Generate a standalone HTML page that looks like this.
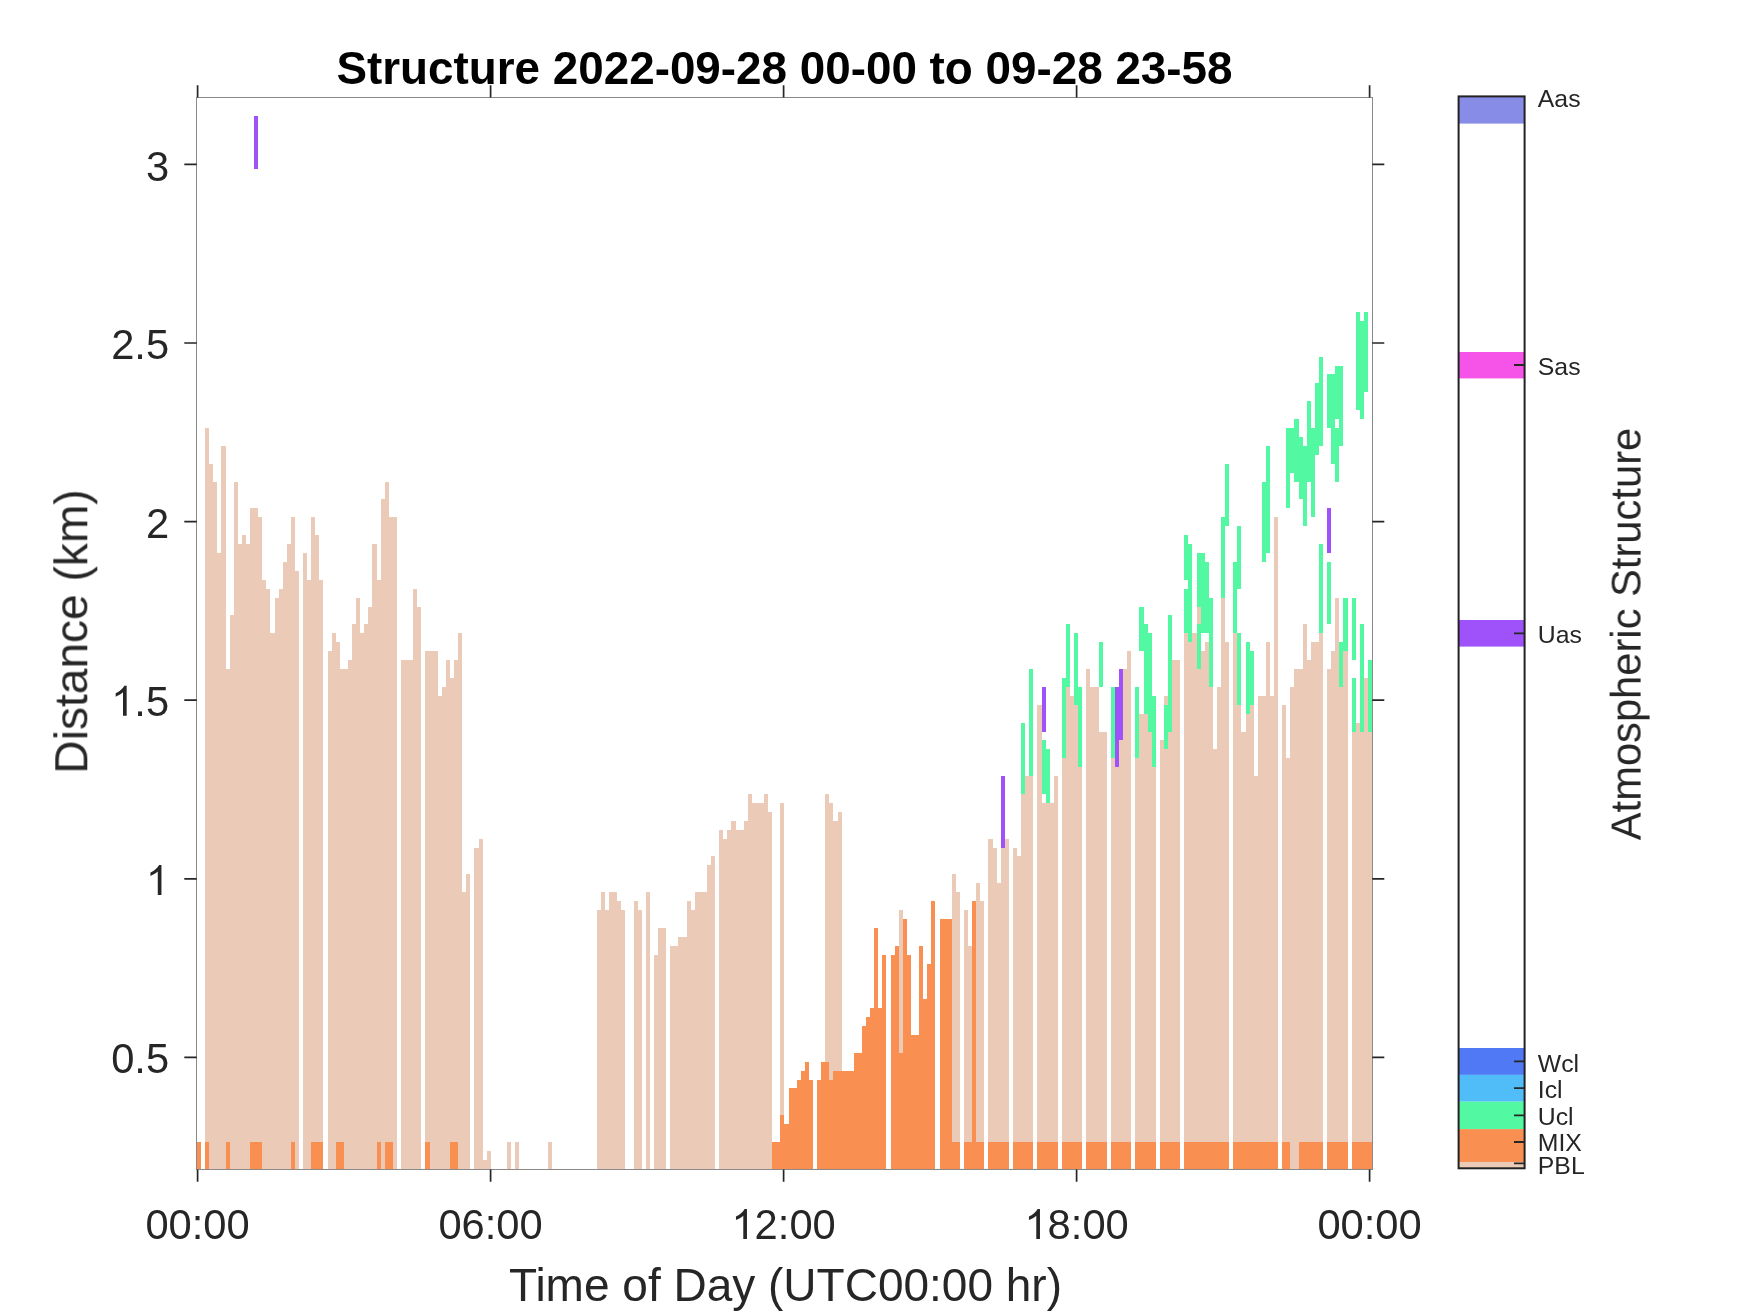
<!DOCTYPE html>
<html><head><meta charset="utf-8"><title>Structure</title>
<style>
html,body{margin:0;padding:0;background:#fff;}
body{width:1750px;height:1313px;overflow:hidden;font-family:"Liberation Sans",sans-serif;}
svg{display:block;position:absolute;left:0;top:0;}
text{font-family:"Liberation Sans",sans-serif;}
</style></head><body>
<svg width="1750" height="1313" viewBox="0 0 1750 1313">
<rect width="1750" height="1313" fill="#fff"/>
<g shape-rendering="crispEdges">
<path fill="#ebcbb7" d="M205 428h4v741h-4zM209 464h4v705h-4zM213 482h4v687h-4zM217 553h4v616h-4zM221 446h5v723h-5zM226 669h4v500h-4zM230 615h4v554h-4zM234 482h4v687h-4zM238 544h4v625h-4zM242 535h4v634h-4zM246 544h4v625h-4zM250 508h8v661h-8zM258 517h4v652h-4zM262 580h4v589h-4zM266 589h4v580h-4zM270 633h5v536h-5zM275 598h4v571h-4zM279 589h4v580h-4zM283 562h4v607h-4zM287 544h4v625h-4zM291 517h4v652h-4zM295 571h4v598h-4zM303 553h4v616h-4zM307 580h4v589h-4zM311 517h4v652h-4zM315 535h4v634h-4zM319 580h4v589h-4zM328 651h4v518h-4zM332 633h4v536h-4zM336 642h4v527h-4zM340 669h8v500h-8zM348 660h4v509h-4zM352 624h4v545h-4zM356 598h4v571h-4zM360 633h4v536h-4zM364 624h4v545h-4zM368 607h4v562h-4zM372 544h5v625h-5zM377 580h4v589h-4zM381 499h4v670h-4zM385 482h4v687h-4zM389 517h8v652h-8zM401 660h12v509h-12zM413 589h4v580h-4zM417 607h4v562h-4zM425 651h13v518h-13zM438 696h4v473h-4zM442 687h4v482h-4zM446 660h4v509h-4zM450 678h4v491h-4zM454 660h4v509h-4zM458 633h4v536h-4zM462 892h4v277h-4zM466 874h4v295h-4zM474 848h5v321h-5zM479 839h4v330h-4zM483 1160h4v9h-4zM487 1151h4v18h-4zM507 1142h4v27h-4zM515 1142h4v27h-4zM548 1142h4v27h-4zM597 910h4v259h-4zM601 892h4v277h-4zM605 910h4v259h-4zM609 892h8v277h-8zM617 901h4v268h-4zM621 910h4v259h-4zM634 901h4v268h-4zM638 910h4v259h-4zM646 892h4v277h-4zM654 955h4v214h-4zM658 928h8v241h-8zM670 946h8v223h-8zM678 937h9v232h-9zM687 901h4v268h-4zM691 910h4v259h-4zM695 892h12v277h-12zM707 865h4v304h-4zM711 856h4v313h-4zM719 830h4v339h-4zM723 839h4v330h-4zM727 830h4v339h-4zM731 821h5v348h-5zM736 830h8v339h-8zM744 821h4v348h-4zM748 794h4v375h-4zM752 803h12v366h-12zM764 794h4v375h-4zM768 812h4v357h-4zM780 803h4v366h-4zM825 794h4v375h-4zM829 803h4v366h-4zM833 821h5v348h-5zM838 812h4v357h-4zM899 910h4v259h-4zM952 874h4v295h-4zM956 892h4v277h-4zM964 910h4v259h-4zM968 946h4v223h-4zM976 883h4v286h-4zM980 901h4v268h-4zM988 839h5v330h-5zM993 848h4v321h-4zM997 883h4v286h-4zM1001 848h4v321h-4zM1005 839h4v330h-4zM1013 848h4v321h-4zM1017 856h4v313h-4zM1021 794h4v375h-4zM1025 776h8v393h-8zM1037 705h5v464h-5zM1042 803h12v366h-12zM1054 776h4v393h-4zM1062 758h4v411h-4zM1066 687h4v482h-4zM1070 696h4v473h-4zM1074 705h4v464h-4zM1078 767h4v402h-4zM1086 669h4v500h-4zM1090 687h9v482h-9zM1099 732h8v437h-8zM1111 758h4v411h-4zM1115 767h4v402h-4zM1119 740h4v429h-4zM1123 669h4v500h-4zM1127 651h4v518h-4zM1135 758h4v411h-4zM1139 714h9v455h-9zM1148 732h4v437h-4zM1152 767h4v402h-4zM1160 740h4v429h-4zM1164 696h4v473h-4zM1168 732h4v437h-4zM1172 660h8v509h-8zM1184 633h4v536h-4zM1188 642h4v527h-4zM1192 633h5v536h-5zM1197 607h4v562h-4zM1201 651h4v518h-4zM1205 642h4v527h-4zM1209 687h4v482h-4zM1213 749h4v420h-4zM1217 687h4v482h-4zM1221 598h4v571h-4zM1225 642h4v527h-4zM1233 633h4v536h-4zM1237 705h4v464h-4zM1241 732h5v437h-5zM1246 714h4v455h-4zM1250 705h4v464h-4zM1254 776h4v393h-4zM1258 696h8v473h-8zM1266 642h4v527h-4zM1270 696h4v473h-4zM1274 517h4v652h-4zM1282 705h4v464h-4zM1286 758h4v411h-4zM1290 687h4v482h-4zM1294 669h9v500h-9zM1303 624h4v545h-4zM1307 660h4v509h-4zM1311 642h8v527h-8zM1319 633h4v536h-4zM1327 669h4v500h-4zM1331 651h4v518h-4zM1335 598h4v571h-4zM1339 687h4v482h-4zM1343 651h5v518h-5zM1352 732h4v437h-4zM1356 723h4v446h-4zM1360 732h4v437h-4zM1364 678h4v491h-4zM1368 732h4v437h-4z"/>
<path fill="#f99052" d="M197 1142h4v27h-4zM205 1142h4v27h-4zM226 1142h4v27h-4zM250 1142h12v27h-12zM291 1142h4v27h-4zM311 1142h12v27h-12zM336 1142h8v27h-8zM377 1142h4v27h-4zM385 1142h8v27h-8zM425 1142h5v27h-5zM450 1142h8v27h-8zM772 1142h8v27h-8zM780 1115h4v54h-4zM784 1124h5v45h-5zM789 1088h8v81h-8zM797 1080h4v89h-4zM801 1071h4v98h-4zM805 1062h4v107h-4zM809 1080h4v89h-4zM817 1080h4v89h-4zM821 1062h8v107h-8zM829 1080h4v89h-4zM833 1071h21v98h-21zM854 1053h8v116h-8zM862 1026h4v143h-4zM866 1017h4v152h-4zM870 1008h4v161h-4zM874 928h4v241h-4zM878 1008h4v161h-4zM882 955h4v214h-4zM891 955h4v214h-4zM895 946h4v223h-4zM899 1053h4v116h-4zM903 919h4v250h-4zM907 955h4v214h-4zM911 1035h8v134h-8zM919 946h4v223h-4zM923 999h4v170h-4zM927 964h4v205h-4zM931 901h4v268h-4zM940 919h12v250h-12zM952 1142h8v27h-8zM964 1142h8v27h-8zM972 901h4v268h-4zM976 1142h8v27h-8zM988 1142h21v27h-21zM1013 1142h20v27h-20zM1037 1142h21v27h-21zM1062 1142h20v27h-20zM1086 1142h21v27h-21zM1111 1142h20v27h-20zM1135 1142h21v27h-21zM1160 1142h20v27h-20zM1184 1142h45v27h-45zM1233 1142h45v27h-45zM1282 1142h8v27h-8zM1299 1142h24v27h-24zM1327 1142h21v27h-21zM1352 1142h20v27h-20z"/>
<path fill="#52f8a2" d="M1021 723h4v71h-4zM1029 669h4v107h-4zM1042 740h4v54h-4zM1046 749h4v54h-4zM1062 678h4v80h-4zM1066 624h4v63h-4zM1074 633h4v72h-4zM1078 687h4v80h-4zM1099 642h4v45h-4zM1111 687h4v71h-4zM1135 687h4v71h-4zM1139 607h5v44h-5zM1144 624h4v90h-4zM1148 633h4v99h-4zM1152 696h4v71h-4zM1164 705h4v44h-4zM1168 615h4v117h-4zM1184 535h4v45h-4zM1184 589h4v44h-4zM1188 544h4v98h-4zM1197 553h4v54h-4zM1197 624h4v45h-4zM1201 553h4v80h-4zM1205 562h4v71h-4zM1209 598h4v89h-4zM1221 517h4v81h-4zM1225 464h4v62h-4zM1233 562h4v71h-4zM1237 526h4v63h-4zM1237 633h4v72h-4zM1246 642h4v72h-4zM1250 651h4v54h-4zM1262 482h4v80h-4zM1266 446h4v107h-4zM1286 428h4v80h-4zM1290 428h4v45h-4zM1294 419h5v63h-5zM1299 437h4v62h-4zM1303 446h4v80h-4zM1307 401h4v81h-4zM1311 428h4v89h-4zM1315 383h4v72h-4zM1319 357h4v89h-4zM1319 544h4v89h-4zM1327 374h4v54h-4zM1327 562h4v62h-4zM1331 374h4v90h-4zM1335 366h4v53h-4zM1335 428h4v54h-4zM1339 366h4v80h-4zM1339 642h4v45h-4zM1343 598h5v53h-5zM1352 598h4v62h-4zM1352 678h4v54h-4zM1356 312h4v98h-4zM1360 321h4v98h-4zM1360 624h4v108h-4zM1364 312h4v80h-4zM1368 660h4v72h-4z"/>
<path fill="#a052fa" d="M254 116h4v53h-4zM1001 776h4v72h-4zM1042 687h4v45h-4zM1115 687h4v80h-4zM1119 669h4v71h-4zM1327 508h4v45h-4z"/>
</g>
<g stroke="#8a8a8a" stroke-width="1" fill="none" shape-rendering="crispEdges"><path d="M196.5 97.5H1372.5V1169.5H196.5Z"/></g>
<path stroke="#262626" stroke-width="1.7" fill="none" d="M197.6 1169.5V1181.8M197.6 97.5V85.2M490.6 1169.5V1181.8M490.6 97.5V85.2M783.6 1169.5V1181.8M783.6 97.5V85.2M1076.6 1169.5V1181.8M1076.6 97.5V85.2M1369.6 1169.5V1181.8M1369.6 97.5V85.2M196.8 164.4H184.3M1372.2 164.4H1384.3M196.8 343.0H184.3M1372.2 343.0H1384.3M196.8 521.6H184.3M1372.2 521.6H1384.3M196.8 700.2H184.3M1372.2 700.2H1384.3M196.8 878.8H184.3M1372.2 878.8H1384.3M196.8 1057.4H184.3M1372.2 1057.4H1384.3"/>
<rect x="1458" y="96.0" width="67" height="27.6" fill="#878de7"/>
<rect x="1458" y="352.0" width="67" height="26.4" fill="#f653e8"/>
<rect x="1458" y="620.0" width="67" height="26.6" fill="#a052fa"/>
<rect x="1458" y="1048.0" width="67" height="26.9" fill="#507af5"/>
<rect x="1458" y="1074.9" width="67" height="26.8" fill="#50bcf8"/>
<rect x="1458" y="1101.7" width="67" height="27.4" fill="#52f8a2"/>
<rect x="1458" y="1129.1" width="67" height="32.9" fill="#f99052"/>
<rect x="1458" y="1162.0" width="67" height="6.6" fill="#ebcbb7"/>
<rect x="1458.6" y="96.4" width="66" height="1071.9" fill="none" stroke="#222" stroke-width="2"/>
<path stroke="#262626" stroke-width="1.8" fill="none" d="M1524.5 365.0H1514M1524.5 633.4H1514M1524.5 1061.4H1514M1524.5 1088.2H1514M1524.5 1115.4H1514M1524.5 1142.0H1514M1524.5 1163.4H1514"/>
<g opacity="0.999"><text x="784.5" y="84" font-size="45.8" font-weight="bold" text-anchor="middle" fill="#000">Structure 2022-09-28 00-00 to 09-28 23-58</text>
<text x="169.1" y="181.2" font-size="41.7" text-anchor="end" fill="#262626">3</text>
<text x="169.1" y="358.9" font-size="41.7" text-anchor="end" fill="#262626">2.5</text>
<text x="169.1" y="538.0" font-size="41.7" text-anchor="end" fill="#262626">2</text>
<path fill="#262626" transform="translate(111.13 715.70) scale(0.02036 -0.02036)" d="M763 0H583V1147Q518 1085 412.5 1023T223 930V1104Q374 1175 487 1276T647 1472H763Z"/><text x="134.32" y="715.7" font-size="41.7" fill="#262626">.5</text>
<path fill="#262626" transform="translate(145.91 894.90) scale(0.02036 -0.02036)" d="M763 0H583V1147Q518 1085 412.5 1023T223 930V1104Q374 1175 487 1276T647 1472H763Z"/>
<text x="169.1" y="1073.1" font-size="41.7" text-anchor="end" fill="#262626">0.5</text>
<text x="197.6" y="1239" font-size="41.7" text-anchor="middle" fill="#262626">00:00</text>
<text x="490.6" y="1239" font-size="41.7" text-anchor="middle" fill="#262626">06:00</text>
<path fill="#262626" transform="translate(731.42 1239.00) scale(0.02036 -0.02036)" d="M763 0H583V1147Q518 1085 412.5 1023T223 930V1104Q374 1175 487 1276T647 1472H763Z"/><text x="754.62" y="1239.0" font-size="41.7" fill="#262626">2:00</text>
<path fill="#262626" transform="translate(1024.42 1239.00) scale(0.02036 -0.02036)" d="M763 0H583V1147Q518 1085 412.5 1023T223 930V1104Q374 1175 487 1276T647 1472H763Z"/><text x="1047.62" y="1239.0" font-size="41.7" fill="#262626">8:00</text>
<text x="1369.6" y="1239" font-size="41.7" text-anchor="middle" fill="#262626">00:00</text>
<text x="785.5" y="1301" font-size="46" text-anchor="middle" fill="#262626">Time of Day (UTC00:00 hr)</text>
<text transform="translate(87.3 631.5) rotate(-90)" font-size="46.1" text-anchor="middle" fill="#262626">Distance (km)</text>
<text transform="translate(1640.6 634) rotate(-90)" font-size="41.7" text-anchor="middle" fill="#262626">Atmospheric Structure</text>
<text x="1537.8" y="107.0" font-size="24.8" fill="#262626">Aas</text>
<text x="1537.8" y="375.0" font-size="24.8" fill="#262626">Sas</text>
<text x="1537.8" y="642.8" font-size="24.8" fill="#262626">Uas</text>
<text x="1537.8" y="1071.6" font-size="24.8" fill="#262626">Wcl</text>
<text x="1537.8" y="1098.3" font-size="24.8" fill="#262626">Icl</text>
<text x="1537.8" y="1125.1" font-size="24.8" fill="#262626">Ucl</text>
<text x="1537.8" y="1151.3" font-size="24.8" fill="#262626">MIX</text>
<text x="1537.8" y="1173.6" font-size="24.8" fill="#262626">PBL</text></g>
</svg>
</body></html>
